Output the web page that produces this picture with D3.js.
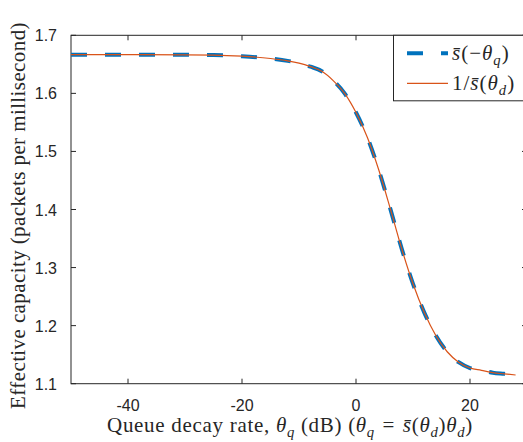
<!DOCTYPE html>
<html>
<head>
<meta charset="utf-8">
<script src="https://cdn.jsdelivr.net/npm/d3@7"></script>
<style>
body { margin: 0; background: #fff; }
svg { display: block; overflow: hidden; }
</style>
</head>
<body>
<div id="chart"></div>
<script>
// queue decay rate (dB)
let thetaQ = [-50, -40, -30, -25, -20, -15, -12, -10, -8, -6, -4, -2, 0, 2, 4, 6, 8, 10, 12, 14, 16, 18, 20, 22, 24, 26, 28];
// s(-theta_q)
let sNeg = [1.6667, 1.6666, 1.6664, 1.666, 1.664, 1.660, 1.656, 1.652, 1.646, 1.638, 1.622, 1.600, 1.567, 1.524, 1.468, 1.402, 1.333, 1.272, 1.222, 1.183, 1.155, 1.137, 1.127, 1.123, 1.119, 1.117, 1.115];
// 1/s(theta_d)
let sInv = [1.6667, 1.6666, 1.6664, 1.666, 1.664, 1.660, 1.656, 1.652, 1.646, 1.638, 1.622, 1.600, 1.567, 1.524, 1.468, 1.402, 1.333, 1.272, 1.222, 1.183, 1.155, 1.137, 1.127, 1.123, 1.119, 1.117, 1.115];
let xTicks = [-40, -20, 0, 20];
let yTicks = [1.1, 1.2, 1.3, 1.4, 1.5, 1.6, 1.7];

var W = 523, H = 442;
var mLeft = 71, mTop = 35.3, pw = 456, ph = 348.4;

var svg = d3.select("#chart").append("svg")
  .attr("width", W).attr("height", H);

var x = d3.scaleLinear().domain([-50, 30]).range([mLeft, mLeft + pw]);
var y = d3.scaleLinear().domain([1.1, 1.7]).range([mTop + ph, mTop]);

var axisCol = "#262626";

// box
svg.append("rect")
  .attr("x", mLeft).attr("y", mTop).attr("width", pw).attr("height", ph)
  .attr("fill", "none").attr("stroke", axisCol).attr("stroke-width", 1);

var tl = 5;
var gx = svg.append("g");
xTicks.forEach(function(t) {
  gx.append("line").attr("x1", x(t)).attr("x2", x(t)).attr("y1", mTop + ph).attr("y2", mTop + ph - tl)
    .attr("stroke", axisCol);
  gx.append("line").attr("x1", x(t)).attr("x2", x(t)).attr("y1", mTop).attr("y2", mTop + tl)
    .attr("stroke", axisCol);
  gx.append("text").attr("x", x(t)).attr("y", mTop + ph + 27)
    .attr("text-anchor", "middle")
    .style("font-family", "'Liberation Sans', Arial, sans-serif").style("font-size", "16px")
    .attr("fill", axisCol).text(t);
});
var gy = svg.append("g");
yTicks.forEach(function(t) {
  gy.append("line").attr("x1", mLeft).attr("x2", mLeft + tl).attr("y1", y(t)).attr("y2", y(t))
    .attr("stroke", axisCol);
  gy.append("line").attr("x1", mLeft + pw).attr("x2", mLeft + pw - tl).attr("y1", y(t)).attr("y2", y(t))
    .attr("stroke", axisCol);
  gy.append("text").attr("x", mLeft - 14).attr("y", y(t) + 6)
    .attr("text-anchor", "end")
    .style("font-family", "'Liberation Sans', Arial, sans-serif").style("font-size", "16px")
    .attr("fill", axisCol).text(t.toFixed(1));
});

var line = d3.line().curve(d3.curveMonotoneX);

svg.append("path")
  .attr("d", line(thetaQ.map(function(d, i) { return [x(d), y(sNeg[i])]; })))
  .attr("fill", "none").attr("stroke", "#0072BD").attr("stroke-width", 4)
  .attr("stroke-dasharray", "16,18");
svg.append("path")
  .attr("d", line(thetaQ.map(function(d, i) { return [x(d), y(sInv[i])]; })))
  .attr("fill", "none").attr("stroke", "#D95319").attr("stroke-width", 1.2);

var serif = "'Liberation Serif', 'Times New Roman', serif";

// text with italic greek and subscripts, shifted with dy
function addMath(t, parts, size) {
  var shift = 0;
  parts.forEach(function(p) {
    var ts = t.append("tspan").text(p.s);
    if (p.i) ts.style("font-style", "italic");
    if (p.sub) {
      ts.attr("dy", 0.25 * size - shift).style("font-size", (size * 0.7) + "px").style("font-style", "italic");
      shift = 0.25 * size;
    } else if (shift) {
      ts.attr("dy", -shift);
      shift = 0;
    }
  });
}

// x label
var xl = svg.append("text").attr("x", 290).attr("y", 432).attr("text-anchor", "middle")
  .style("font-family", serif).style("font-size", "21px").style("letter-spacing", "0.7px")
  .attr("fill", axisCol);
addMath(xl, [
  {s: "Queue decay rate, "}, {s: "\u03B8", i: 1}, {s: "q", sub: 1},
  {s: " (dB) ("}, {s: "\u03B8", i: 1}, {s: "q", sub: 1}, {s: "\u2004=\u2004"},
  {s: "s\u0304", i: 1}, {s: "("}, {s: "\u03B8", i: 1}, {s: "d", sub: 1}, {s: ")"},
  {s: "\u03B8", i: 1}, {s: "d", sub: 1}, {s: ")"}
], 21);

// y label
svg.append("text")
  .attr("transform", "translate(25," + (mTop + ph / 2 + 6) + ") rotate(-90)")
  .attr("text-anchor", "middle")
  .style("font-family", serif).style("font-size", "21px").style("letter-spacing", "0.4px")
  .attr("fill", axisCol)
  .text("Effective capacity (packets per millisecond)");

// legend
var lg = svg.append("g");
lg.append("rect").attr("x", 393.5).attr("y", mTop).attr("width", 140).attr("height", 65.5)
  .attr("fill", "#fff").attr("stroke", axisCol).attr("stroke-width", 1);
lg.append("line").attr("x1", 407).attr("x2", 448).attr("y1", 53.3).attr("y2", 53.3)
  .attr("stroke", "#0072BD").attr("stroke-width", 4).attr("stroke-dasharray", "16,18");
lg.append("line").attr("x1", 407).attr("x2", 448).attr("y1", 83.3).attr("y2", 83.3)
  .attr("stroke", "#D95319").attr("stroke-width", 1.2);
var l1 = lg.append("text").attr("x", 452).attr("y", 60)
  .style("font-family", serif).style("font-size", "21px").style("letter-spacing", "1px")
  .attr("fill", axisCol);
addMath(l1, [{s: "s\u0304", i: 1}, {s: "(\u2212"}, {s: "\u03B8", i: 1}, {s: "q", sub: 1}, {s: ")"}], 21);
var l2 = lg.append("text").attr("x", 452).attr("y", 90)
  .style("font-family", serif).style("font-size", "21px").style("letter-spacing", "1px")
  .attr("fill", axisCol);
addMath(l2, [{s: "1/"}, {s: "s\u0304", i: 1}, {s: "("}, {s: "\u03B8", i: 1}, {s: "d", sub: 1}, {s: ")"}], 21);
</script>
</body>
</html>
